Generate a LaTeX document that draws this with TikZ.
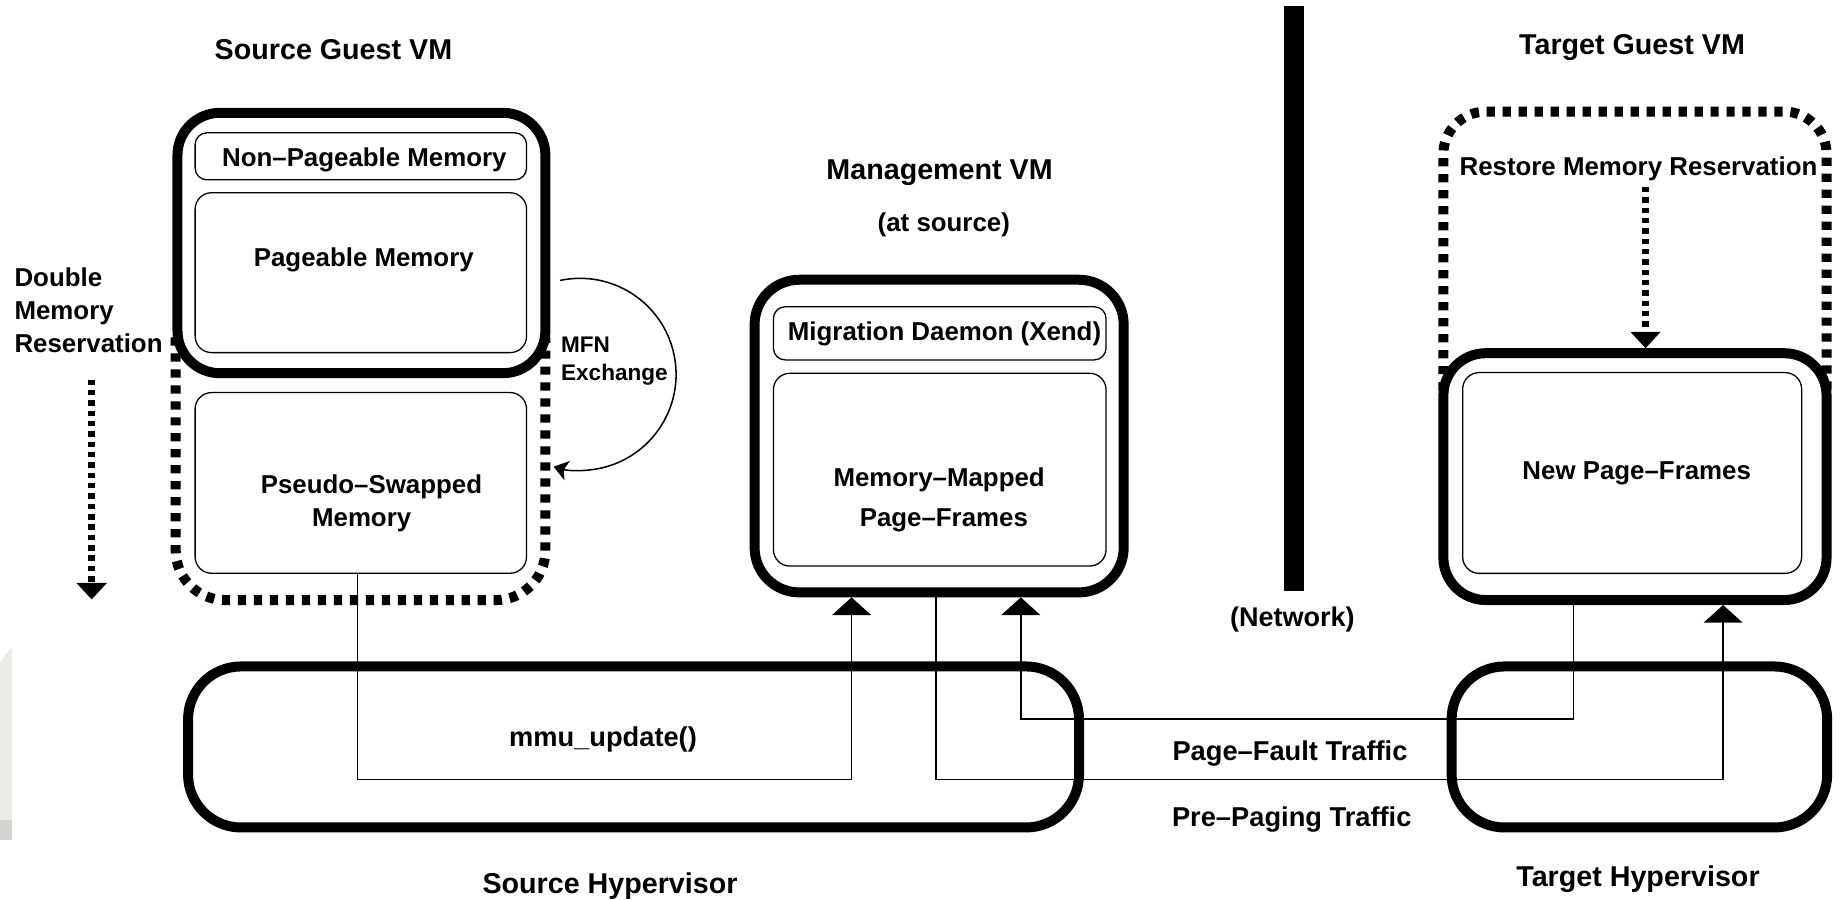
\documentclass[tikz,border=0pt]{standalone}
\usepackage{fontspec}
\setmainfont{Liberation Sans}
\usetikzlibrary{arrows.meta}
\definecolor{scanA}{RGB}{236,236,228}
\definecolor{scanB}{RGB}{213,213,211}
\tikzset{
  vmbox/.style={draw, line width=4.25pt, rounded corners=#1, inner sep=0pt},
  vmbox/.default=18pt,
  membox/.style={draw, line width=0.55pt, rounded corners=#1, inner sep=0pt},
  membox/.default=7pt,
  resv/.style={line width=4.25pt, dash pattern=on 3.5pt off 3.3pt, rounded corners=#1},
  resv/.default=20pt,
  resvarrow/.style={line width=2.75pt, dash pattern=on 2.3pt off 2.1pt,
    -{Triangle[width=12.5pt,length=7pt]}},
  wire/.style={line width=0.65pt},
  conn/.style={wire, -{Triangle[width=16.5pt,length=7.5pt]}},
  txt/.style={inner sep=0pt, anchor=base, font=\bfseries\fontsize{11}{13}\selectfont},
  txtl/.style={txt, anchor=base west},
  head/.style={txt, font=\bfseries\fontsize{12.2}{14}\selectfont},
  flow/.style={txt, font=\bfseries\fontsize{11.6}{14}\selectfont},
  small/.style={txtl, font=\bfseries\fontsize{9.6}{11}\selectfont},
}
\begin{document}
\begin{tikzpicture}[x=0.5pt, y=-0.5pt]
\useasboundingbox (0,0) rectangle (1568,765);
\fill[white] (0,0) rectangle (1568,765);

% faint strip at the left edge
\fill[scanA] (0,563) -- (10,551) -- (10,698) -- (0,698) -- cycle;
\fill[scanB] (0,698) rectangle (10,715);

% ---------- source guest VM ----------
\coordinate (sgresvL) at (149.5,287);
\coordinate (sgresvR) at (464,287);
\draw[resv=21pt] (sgresvL) -- (149.5,510.5) -- (464,510.5) -- (sgresvR);

\node[vmbox=18pt, minimum width=156.5pt, minimum height=110.75pt] (sgvm) at (307.5,206.75) {};
\node[membox=5pt, minimum width=141pt, minimum height=20pt] (nonpg) at (307,133) {};
\node[membox, minimum width=141pt, minimum height=68pt] (pgbl) at (307,232) {};
\node[membox, minimum width=141pt, minimum height=76.85pt] (pseudo) at (307,410.85) {};

\node[head] (sgvmlbl) at (283.7,51) {Source Guest VM};
\node[txt] (nonpglbl) at (310,142) {Non–Pageable Memory};
\node[txt] (pgbllbl) at (309.5,227) {Pageable Memory};
\node[txt] (pseudolbl1) at (316,419.6) {Pseudo–Swapped};
\node[txt] (pseudolbl2) at (307.7,448) {Memory};

% double reservation legend
\node[txtl] (dmr1) at (12,244) {Double};
\node[txtl] (dmr2) at (12,272) {Memory};
\node[txtl] (dmr3) at (12,300) {Reservation};
\coordinate (dmrtop) at (78,323);
\coordinate (dmrtip) at (78,510);
\draw[resvarrow] (dmrtop) -- (dmrtip);

% MFN exchange loop
\node[small] (mfn1) at (477,299.5) {MFN};
\node[small] (mfn2) at (477,323.4) {Exchange};
\coordinate (mfnA) at (476.5,238.6);
\draw[wire, -{Stealth[length=6pt,width=8.5pt,inset=1.5pt]}]
  (mfnA) arc[start angle=-102, end angle=106, radius=81.7];

% ---------- management VM ----------
\node[head] (mgmtlbl) at (799.4,153) {Management VM};
\node[txt] (mgmtsub) at (803,196.6) {(at source)};
\node[vmbox=19pt, minimum width=157pt, minimum height=133pt] (mgmt) at (799,371) {};
\node[membox=5pt, minimum width=141.5pt, minimum height=22.6pt] (migd) at (799.5,283.6) {};
\node[membox, minimum width=141.5pt, minimum height=82pt] (mmap) at (799.5,399.6) {};
\node[txt] (migdlbl) at (803.6,289.3) {Migration Daemon (Xend)};
\node[txt] (mmaplbl1) at (799,414) {Memory–Mapped};
\node[txt] (mmaplbl2) at (803,448) {Page–Frames};

% ---------- network ----------
\coordinate (netT) at (1101,5);
\coordinate (netB) at (1101,503);
\draw[line width=8.5pt] (netT) -- (netB);
\node[txt, font=\bfseries\fontsize{11.5}{14}\selectfont] (netlbl) at (1099.5,532.6) {(Network)};

% ---------- target guest VM ----------
\node[head] (tgvmlbl) at (1388.5,46.5) {Target Guest VM};
\coordinate (tgresvL) at (1228,332);
\coordinate (tgresvR) at (1554,332);
\draw[resv=18pt] (tgresvL) -- (1228,95) -- (1554,95) -- (tgresvR);
\node[txt] (rmrlbl) at (1394,149.6) {Restore Memory Reservation};

\node[vmbox=18pt, minimum width=163pt, minimum height=105pt] (tgvm) at (1391,405.5) {};
\node[membox, minimum width=144.2pt, minimum height=85.4pt] (newpf) at (1388.6,402.4) {};
\node[txt] (newpflbl) at (1392.5,407.8) {New Page–Frames};

\coordinate (rmrtop) at (1400,159);
\draw[resvarrow] (rmrtop) -- ([xshift=4.5pt]tgvm.north);

% ---------- hypervisors ----------
\node[vmbox=22.5pt, minimum width=379pt, minimum height=68.5pt] (shyp) at (539,635.5) {};
\node[vmbox=22.5pt, minimum width=159.75pt, minimum height=68.5pt] (thyp) at (1394.75,635.5) {};
\node[flow] (mmulbl) at (513,635) {mmu\_update()};
\node[head] (shyplbl) at (519,760) {Source Hypervisor};
\node[head] (thyplbl) at (1393.6,754.4) {Target Hypervisor};
\node[flow] (pflbl) at (1097.5,646.6) {Page–Fault Traffic};
\node[flow] (pplbl) at (1099,703.3) {Pre–Paging Traffic};

% ---------- page transfer paths ----------
\coordinate (laneA) at (0,663);
\coordinate (laneB) at (0,611.5);
\coordinate (mmuin) at ([xshift=-37.25pt]mgmt.south);
\coordinate (pfin) at ([xshift=34.75pt]mgmt.south);
\coordinate (ppin) at ([xshift=37.5pt]tgvm.south);

\draw[conn] ([xshift=-1.5pt]pseudo.south) |- (laneA -| mmuin) -- (mmuin);
\draw[conn] ([xshift=-1.25pt]mgmt.south) |- (laneA -| ppin) -- (ppin);
\draw[conn] ([xshift=-26.25pt]tgvm.south) |- (laneB -| pfin) -- (pfin);
\end{tikzpicture}
\end{document}
